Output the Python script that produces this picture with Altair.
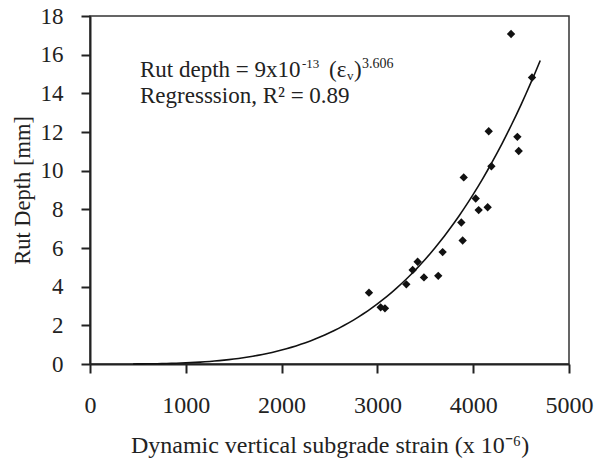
import altair as alt
import pandas as pd

# measured data points
strain = [4395, 4614, 4162, 4461, 4475, 4190, 3901, 4026, 4057, 4151, 3876,
          3890, 3681, 3420, 3368, 3486, 3635, 3302, 2912, 3034, 3079]
depth = [17.07, 14.82, 12.04, 11.75, 11.02, 10.23, 9.65, 8.56, 7.96, 8.11, 7.32,
         6.39, 5.79, 5.29, 4.86, 4.48, 4.56, 4.12, 3.69, 2.93, 2.88]

# regression curve: Rut depth = 9e-13 * strain^3.606
coef = 9e-13
expo = 3.606
curve_x = list(range(450, 4701, 50))
curve_y = [coef * x ** expo for x in curve_x]

x_ticks = [0, 1000, 2000, 3000, 4000, 5000]
y_ticks = [0, 2, 4, 6, 8, 10, 12, 14, 16, 18]

# annotation anchor (data units)
ann_x = 522
ann_y1 = 14.83
ann_y2 = 13.49

FONT = "Liberation Serif"
INK = "#222222"
BIG = 23
SMALL = 13

pts = pd.DataFrame({"strain": strain, "depth": depth})
crv = pd.DataFrame({"strain": curve_x, "depth": curve_y})

xscale = alt.Scale(domain=[0, 5000], nice=False)
yscale = alt.Scale(domain=[0, 18], nice=False)

xaxis = alt.Axis(values=x_ticks, format="d", title="Dynamic vertical subgrade strain (x 10⁻⁶)",
                 grid=False, tickSize=9, tickWidth=2, tickColor=INK,
                 domainColor=INK, domainWidth=2, labelPadding=20, labelOverlap=False,
                 labelFlush=False, labelBound=False,
                 labelFontSize=24, titleFontSize=24, labelFont=FONT, titleFont=FONT,
                 labelColor=INK, titleColor=INK, titleFontWeight="normal",
                 titleY=88, titleBaseline="alphabetic")
yaxis = alt.Axis(values=y_ticks, format="d", title="Rut Depth [mm]",
                 grid=False, tickSize=9, tickWidth=2, tickColor=INK,
                 domainColor=INK, domainWidth=2, labelPadding=18, labelOverlap=False,
                 labelFlush=False, labelBound=False,
                 labelFontSize=23, titleFontSize=22.5, labelFont=FONT, titleFont=FONT,
                 labelColor=INK, titleColor=INK, titleFontWeight="normal",
                 titleX=-68, titleY=174, titleAngle=270, titleAlign="center",
                 titleBaseline="middle")

X = lambda f: alt.X(f, scale=xscale, axis=xaxis)
Y = lambda f: alt.Y(f, scale=yscale, axis=yaxis)

line = alt.Chart(crv).mark_line(color="#111111", strokeWidth=1.6).encode(
    x=X("strain:Q"), y=Y("depth:Q"),
)

points = alt.Chart(pts).mark_point(shape="diamond", filled=True, size=70,
                                   color="#111111", opacity=1).encode(
    x=X("strain:Q"), y=Y("depth:Q"),
)


def piece(txt, yval, size, dx=0, dy=0):
    df = pd.DataFrame({"x": [ann_x], "y": [yval], "t": [txt]})
    return alt.Chart(df).mark_text(align="left", baseline="alphabetic", font=FONT,
                                   fontSize=size, color=INK, dx=dx, dy=dy).encode(
        x=X("x:Q"), y=Y("y:Q"), text="t:N",
    )


texts = [
    piece("Rut depth = 9x10", ann_y1, BIG),
    piece("-13", ann_y1, SMALL, dx=162, dy=-9),
    piece("(ε", ann_y1, BIG, dx=189),
    piece("v", ann_y1, SMALL, dx=207, dy=3),
    piece(")", ann_y1, BIG, dx=214),
    piece("3.606", ann_y1, SMALL + 1, dx=222, dy=-9),
    piece("Regresssion, R² = 0.89", ann_y2, BIG),
]

chart = alt.layer(line, points, *texts).properties(
    width=479, height=348,
    autosize=alt.AutoSizeParams(type="none"),
    padding={"left": 90, "top": 16, "right": 26, "bottom": 95},
    background="white",
).configure_view(stroke="#333333", strokeWidth=1.5)

chart.save("out.html", embed_options={"renderer": "svg", "actions": False})
